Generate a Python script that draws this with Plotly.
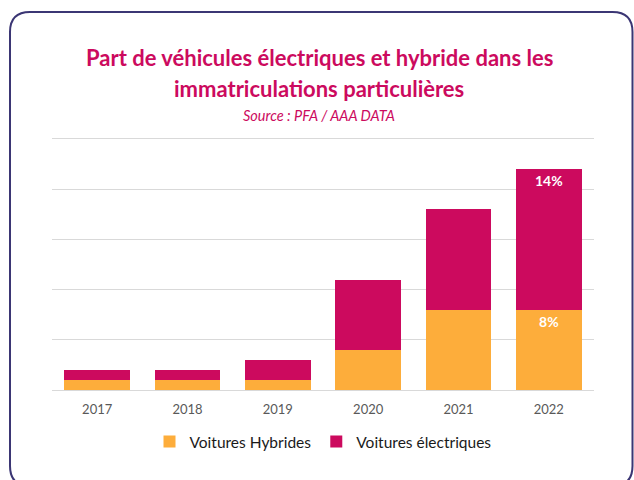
import plotly.graph_objects as go

years = ["2017", "2018", "2019", "2020", "2021", "2022"]
hybrides = [1, 1, 1, 4, 8, 8]
electriques = [1, 1, 2, 7, 10, 14]
hyb_labels = ["", "", "", "", "", "8%"]
elec_labels = ["", "", "", "", "", "14%"]

MAGENTA = "#CC0A5E"
ORANGE = "#FDAD3B"

W, H = 634, 480
PL, PR, PT, PB = 52, 594, 139, 390  # plot area in pixels
L, R, T, B = PL, W - PR, PT, H - PB
pw, ph = PR - PL, PB - PT

def px(x):
    return (x - PL) / pw

def py(y):
    return (PB - y) / ph

fig = go.Figure()
fig.add_trace(go.Bar(
    x=years, y=hybrides, name="Voitures Hybrides", marker_color=ORANGE,
    text=hyb_labels, textposition="inside", insidetextanchor="end",
    textfont=dict(color="white", size=14, family="Lato", weight="bold"),
    marker_line_width=0,
))
fig.add_trace(go.Bar(
    x=years, y=electriques, name="Voitures électriques", marker_color=MAGENTA,
    text=elec_labels, textposition="inside", insidetextanchor="end",
    textfont=dict(color="white", size=14, family="Lato", weight="bold"),
    marker_line_width=0,
))

# rounded frame
x0, x1, y0, y1, r = 10, 632.5, 12, 486, 20
path = (
    f"M {px(x0 + r)},{py(y0)} L {px(x1 - r)},{py(y0)} "
    f"Q {px(x1)},{py(y0)} {px(x1)},{py(y0 + r)} "
    f"L {px(x1)},{py(y1 - r)} Q {px(x1)},{py(y1)} {px(x1 - r)},{py(y1)} "
    f"L {px(x0 + r)},{py(y1)} Q {px(x0)},{py(y1)} {px(x0)},{py(y1 - r)} "
    f"L {px(x0)},{py(y0 + r)} Q {px(x0)},{py(y0)} {px(x0 + r)},{py(y0)} Z"
)
fig.add_shape(type="path", path=path, xref="paper", yref="paper",
              line=dict(color="#3B3674", width=2), layer="below")

for txt, yy, size in [
    ("<b>Part de véhicules électriques et hybride dans les</b>", 57, 22),
    ("<b>immatriculations particulières</b>", 88, 22),
    ("<i>Source : PFA / AAA DATA</i>", 115, 14.5),
]:
    fig.add_annotation(text=txt, x=px(319), y=py(yy), xref="paper", yref="paper",
                       xanchor="center", yanchor="middle", showarrow=False,
                       font=dict(family="Lato", size=size, color=MAGENTA))

fig.update_layout(
    width=W, height=H,
    margin=dict(l=L, r=R, t=T, b=B),
    barmode="stack", bargap=0.27,
    plot_bgcolor="white", paper_bgcolor="white",
    font=dict(family="Lato"),
    showlegend=True,
    legend=dict(orientation="h", x=0.5, xanchor="center", y=py(442), yanchor="middle",
                font=dict(size=15.5, color="#1a1a1a"), itemwidth=30, traceorder="normal"),
    xaxis=dict(showgrid=False, showline=True, mirror=True, linecolor="#D9D9D9", linewidth=1,
               ticks="", ticklabelstandoff=7, tickfont=dict(size=13, color="#595959")),
    yaxis=dict(range=[0, 25], dtick=5, showticklabels=False, showgrid=True,
               gridcolor="#D9D9D9", gridwidth=1, zeroline=False, showline=False),
)

fig.write_html(
    "out.html",
    config={"displayModeBar": False},
    post_script="document.body.style.margin='0';document.body.style.overflow='hidden';",
)
